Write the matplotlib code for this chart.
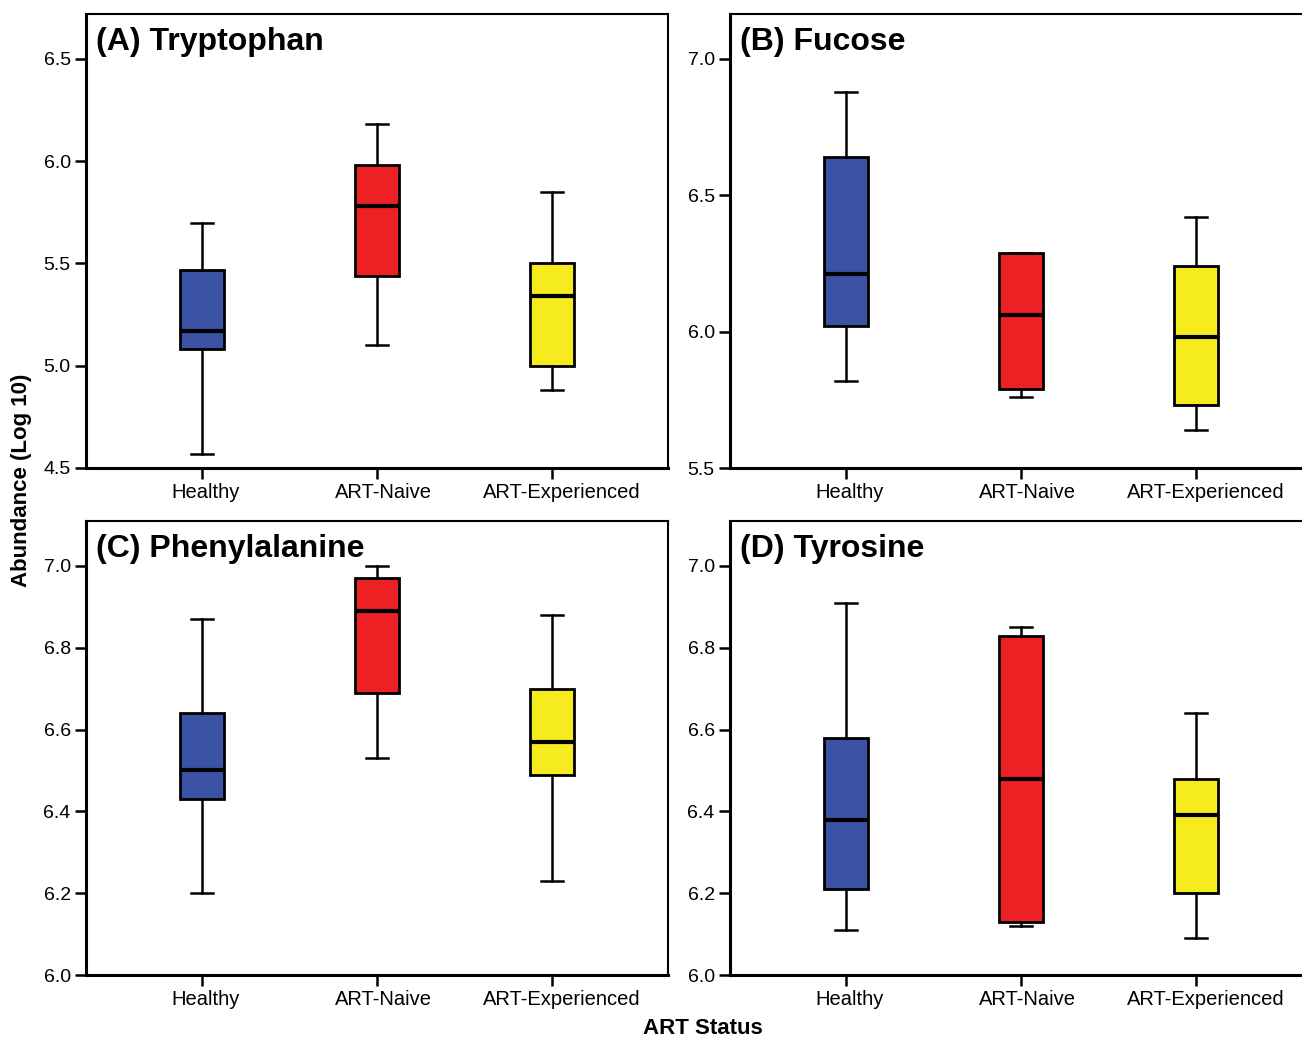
import matplotlib.pyplot as plt
from matplotlib.transforms import ScaledTranslation

plt.rcParams['font.family'] = ['Liberation Sans', 'DejaVu Sans']

groups = ['Healthy', 'ART-Naive', 'ART-Experienced']
colors = ['#3A53A4', '#ED2024', '#F5EB1E']

# whisker low, Q1, median, Q3, whisker high for each group
tryptophan = [[4.57, 5.08, 5.17, 5.47, 5.70],
              [5.10, 5.44, 5.78, 5.98, 6.18],
              [4.88, 5.00, 5.34, 5.50, 5.85]]
fucose = [[5.82, 6.02, 6.21, 6.64, 6.88],
          [5.76, 5.79, 6.06, 6.29, 6.29],
          [5.64, 5.73, 5.98, 6.24, 6.42]]
phenylalanine = [[6.20, 6.43, 6.50, 6.64, 6.87],
                 [6.53, 6.69, 6.89, 6.97, 7.00],
                 [6.23, 6.49, 6.57, 6.70, 6.88]]
tyrosine = [[6.11, 6.21, 6.38, 6.58, 6.91],
            [6.12, 6.13, 6.48, 6.83, 6.85],
            [6.09, 6.20, 6.39, 6.48, 6.64]]

titles = ['(A) Tryptophan', '(B) Fucose', '(C) Phenylalanine', '(D) Tyrosine']
panels = [tryptophan, fucose, phenylalanine, tyrosine]
ylims = [(4.5, 6.72), (5.5, 7.165), (6.0, 7.11), (6.0, 7.11)]
yticks = [[4.5, 5.0, 5.5, 6.0, 6.5], [5.5, 6.0, 6.5, 7.0],
          [6.0, 6.2, 6.4, 6.6, 6.8, 7.0], [6.0, 6.2, 6.4, 6.6, 6.8, 7.0]]

fig = plt.figure(figsize=(13.02, 10.4), dpi=100)
W, H = 1302, 1040
boxes = [(86, 14), (730, 14), (86, 521), (730, 521)]
# labels in the original sit a little right of their ticks
label_shift = [4, 6, 10]

for i in range(4):
    x0, y0 = boxes[i]
    ax = fig.add_axes([x0 / W, 1 - (y0 + 454) / H, 582 / W, 454 / H])
    stats = []
    for g, s in zip(groups, panels[i]):
        stats.append({'label': g, 'whislo': s[0], 'q1': s[1], 'med': s[2],
                      'q3': s[3], 'whishi': s[4], 'fliers': []})
    bp = ax.bxp(stats, positions=[1, 2, 3], widths=0.25, patch_artist=True,
                showfliers=False,
                boxprops=dict(linewidth=2.0, edgecolor='black'),
                medianprops=dict(color='black', linewidth=3),
                whiskerprops=dict(color='black', linewidth=1.8),
                capprops=dict(color='black', linewidth=1.8))
    for patch, c in zip(bp['boxes'], colors):
        patch.set_facecolor(c)
    ax.set_xlim(0.337, 3.663)
    ax.set_ylim(*ylims[i])
    ax.set_yticks(yticks[i])
    ax.set_yticklabels(['%.1f' % v for v in yticks[i]], fontsize=14)
    ax.set_xticks([1, 2, 3])
    ax.set_xticklabels(groups, fontsize=14.5)
    ax.tick_params(axis='both', length=8, width=1.8, pad=3, direction='out')
    for lab, dx in zip(ax.get_xticklabels(), label_shift):
        lab.set_transform(lab.get_transform() +
                          ScaledTranslation(dx / 100, 0, fig.dpi_scale_trans))
    for side in ['left', 'bottom']:
        ax.spines[side].set_linewidth(2.2)
    for side in ['top', 'right']:
        ax.spines[side].set_linewidth(1.5)
    ax.text(0.017, 0.972, titles[i], transform=ax.transAxes, fontsize=23,
            fontweight='bold', va='top', ha='left')

fig.text(22 / W, 1 - 480 / H, 'Abundance (Log 10)', rotation=90,
         fontsize=16, fontweight='bold', ha='center', va='center')
fig.text(703 / W, 1 - 1029 / H, 'ART Status', fontsize=16,
         fontweight='bold', ha='center', va='center')

plt.savefig('out.png', dpi=100)
